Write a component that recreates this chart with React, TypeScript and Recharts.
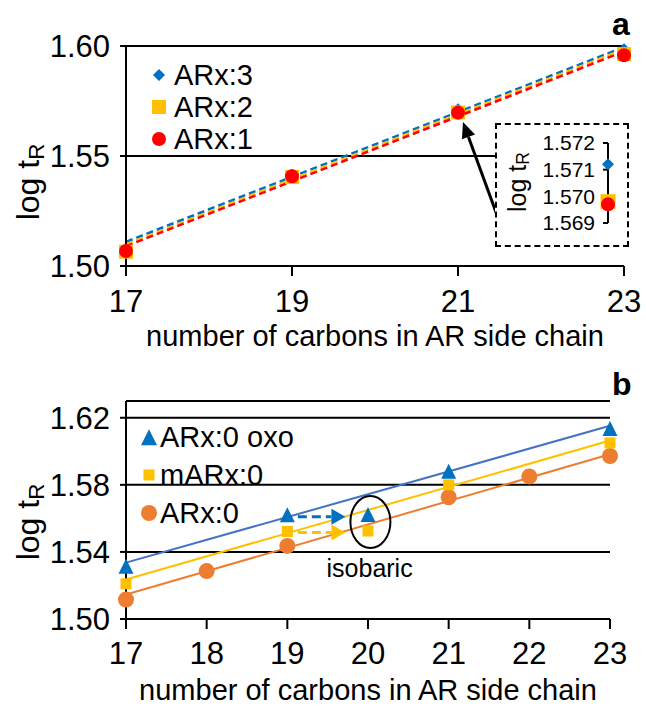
import React from 'react';
import {
  ComposedChart,
  ScatterChart,
  Scatter,
  Line,
  XAxis,
  YAxis,
  CartesianGrid,
  ReferenceLine,
  ReferenceDot,
  Legend,
} from 'recharts';

const FONT = '"Liberation Sans", Arial, sans-serif';

// panel a: ARx series, carbons 17..23
const carbonsA = [17, 19, 21, 23];
const arx3 = [1.5075, 1.5415, 1.5712, 1.5985];
const arx2 = [1.5065, 1.5405, 1.5698, 1.5963];
const arx1 = [1.5068, 1.5408, 1.5697, 1.5958];
const trendEnds = [17, 23];
const arx3Trend = [1.511, 1.5995];
const arx2Trend = [1.5098, 1.5985];
const arx1Trend = [1.509, 1.5975];
const yTicksA = [1.5, 1.55, 1.6];
const insetTicks = [1.569, 1.57, 1.571, 1.572];

// panel b: ARx:0 series
const carbonsOxo = [17, 19, 20, 21, 23];
const arx0Oxo = [1.531, 1.5617, 1.5618, 1.5876, 1.6132];
const carbonsM = [17, 19, 20, 21, 23];
const marx0 = [1.521, 1.5522, 1.5525, 1.58, 1.605];
const carbonsArx0 = [17, 18, 19, 21, 22, 23];
const arx0 = [1.5116, 1.5286, 1.5436, 1.5726, 1.585, 1.5972];
const oxoTrend = [1.5336, 1.6152];
const mTrend = [1.5236, 1.6064];
const arx0Trend = [1.5146, 1.5982];
const yTicksB = [1.5, 1.54, 1.58, 1.62];
const xTicksB = [17, 18, 19, 20, 21, 22, 23];

const BLUE = '#0070C0';
const LINE_BLUE = '#4472C4';
const YELLOW = '#FFC000';
const RED = '#FF0000';
const ORANGE = '#ED7D31';

const pts = (xs: number[], ys: number[]) => xs.map((x, i) => ({ x, y: ys[i] }));

const diamond = (r: number, fill: string) => (p: any) => (
  <polygon points={`${p.cx},${p.cy - r} ${p.cx + r},${p.cy} ${p.cx},${p.cy + r} ${p.cx - r},${p.cy}`} fill={fill} />
);
const square = (s: number, fill: string) => (p: any) => (
  <rect x={p.cx - s / 2} y={p.cy - s / 2} width={s} height={s} fill={fill} />
);
const dot = (r: number, fill: string) => (p: any) => <circle cx={p.cx} cy={p.cy} r={r} fill={fill} />;
const triangle = (s: number, fill: string) => (p: any) => (
  <polygon
    points={`${p.cx},${p.cy - s * 0.55} ${p.cx + s / 2},${p.cy + s * 0.45} ${p.cx - s / 2},${p.cy + s * 0.45}`}
    fill={fill}
  />
);

const arrow = (color: string, width: number, dash: string | undefined, head: number, half: number) => (p: any) => {
  const { x1, y1, x2, y2 } = p;
  const a = Math.atan2(y2 - y1, x2 - x1);
  const bx = x2 - head * Math.cos(a);
  const by = y2 - head * Math.sin(a);
  const sx = half * Math.sin(a);
  const sy = half * Math.cos(a);
  return (
    <g>
      <line x1={x1} y1={y1} x2={bx} y2={by} stroke={color} strokeWidth={width} strokeDasharray={dash} />
      <polygon points={`${x2},${y2} ${bx + sx},${by - sy} ${bx - sx},${by + sy}`} fill={color} />
    </g>
  );
};

const YTitle = ({ cx, cy, size }: { cx: number; cy: number; size: number }) => (
  <text
    x={cx}
    y={cy}
    transform={`rotate(-90, ${cx}, ${cy})`}
    textAnchor="middle"
    dominantBaseline="central"
    fontSize={size}
    fontFamily={FONT}
    fill="#000"
  >
    log t
    <tspan fontSize={size * 0.7} dy={size * 0.25}>
      R
    </tspan>
  </text>
);

const XTitle = (props: any) => {
  const { viewBox, bottom } = props;
  return (
    <text
      x={viewBox.x + viewBox.width / 2}
      y={viewBox.y + viewBox.height - bottom}
      textAnchor="middle"
      fontSize={29}
      fontFamily={FONT}
      fill="#000"
    >
      number of carbons in AR side chain
    </text>
  );
};

type LegendItem = { label: string; marker: React.ReactNode };

const LegendBox = ({ items, rowH, markerW, gap }: { items: LegendItem[]; rowH: number; markerW: number; gap: number }) => (
  <div style={{ fontFamily: FONT, fontSize: 29, color: '#000' }}>
    {items.map((it) => (
      <div key={it.label} style={{ display: 'flex', alignItems: 'center', height: rowH, whiteSpace: 'nowrap' }}>
        <svg width={markerW} height={20} style={{ marginRight: gap }}>
          {it.marker}
        </svg>
        <span style={{ lineHeight: 1 }}>{it.label}</span>
      </div>
    ))}
  </div>
);

const legendA: LegendItem[] = [
  { label: 'ARx:3', marker: diamond(6, BLUE)({ cx: 10, cy: 10 }) },
  { label: 'ARx:2', marker: square(14, YELLOW)({ cx: 10, cy: 10 }) },
  { label: 'ARx:1', marker: dot(7, RED)({ cx: 10, cy: 10 }) },
];
const legendB: LegendItem[] = [
  { label: 'ARx:0 oxo', marker: triangle(16, BLUE)({ cx: 10, cy: 11 }) },
  { label: 'mARx:0', marker: square(11, YELLOW)({ cx: 10, cy: 10 }) },
  { label: 'ARx:0', marker: dot(8, ORANGE)({ cx: 10, cy: 10 }) },
];

const axisStyle = { stroke: '#000', strokeWidth: 2 };
const tickStyle = { fontSize: 31, fill: '#000', fontFamily: FONT };

export default function App() {
  return (
    <div style={{ position: 'relative', width: 646, height: 707, background: '#fff', fontFamily: FONT }}>
      <style>{'body{margin:0}'}</style>

      {/* panel a */}
      <div style={{ position: 'absolute', left: 0, top: 0 }}>
        <ComposedChart width={646} height={356} margin={{ top: 46, right: 22, bottom: 0, left: 0 }}>
          <CartesianGrid horizontal vertical={false} stroke="#000" strokeWidth={2} />
          <XAxis
            type="number"
            dataKey="x"
            domain={[17, 23]}
            ticks={carbonsA}
            height={90}
            tickSize={10}
            tickMargin={14}
            axisLine={axisStyle}
            tickLine={axisStyle}
            tick={tickStyle}
            label={<XTitle bottom={10} />}
          />
          <YAxis
            type="number"
            dataKey="y"
            domain={[1.5, 1.6]}
            ticks={yTicksA}
            width={126}
            tickSize={6}
            tickMargin={10}
            axisLine={axisStyle}
            tickLine={axisStyle}
            tick={tickStyle}
            tickFormatter={(v: number) => v.toFixed(2)}
            label={<YTitle cx={28} cy={182} size={32} />}
          />
          <Line data={pts(trendEnds, arx3Trend)} dataKey="y" stroke={BLUE} strokeWidth={2.5} strokeDasharray="7 4" dot={false} isAnimationActive={false} />
          <Line data={pts(trendEnds, arx2Trend)} dataKey="y" stroke={YELLOW} strokeWidth={2.5} strokeDasharray="7 4" dot={false} isAnimationActive={false} />
          <Line data={pts(trendEnds, arx1Trend)} dataKey="y" stroke={RED} strokeWidth={2.5} strokeDasharray="7 4" dot={false} isAnimationActive={false} />
          <Scatter data={pts(carbonsA, arx3)} shape={diamond(6, BLUE)} isAnimationActive={false} />
          <Scatter data={pts(carbonsA, arx2)} shape={square(14, YELLOW)} isAnimationActive={false} />
          <Scatter data={pts(carbonsA, arx1)} shape={dot(7, RED)} isAnimationActive={false} />
          <ReferenceLine
            segment={[{ x: 21.47, y: 1.5232 }, { x: 21.06, y: 1.5655 }]}
            ifOverflow="visible"
            shape={arrow('#000', 3, undefined, 16, 7)}
          />
          <Legend
            layout="vertical"
            align="center"
            verticalAlign="middle"
            wrapperStyle={{ position: 'absolute', left: 149, top: 59, width: 'auto' }}
            content={() => <LegendBox items={legendA} rowH={32} markerW={20} gap={5} />}
          />
        </ComposedChart>
      </div>

      {/* inset: C21 close-up */}
      <div
        style={{
          position: 'absolute',
          left: 495,
          top: 123,
          width: 134,
          height: 124,
          border: '2px dashed #000',
          boxSizing: 'border-box',
          background: '#fff',
        }}
      >
        <ScatterChart width={130} height={120} margin={{ top: 18, right: 8, bottom: 22, left: 0 }}>
          <XAxis type="number" dataKey="x" domain={[0, 1]} hide />
          <YAxis
            type="number"
            dataKey="y"
            domain={[1.569, 1.572]}
            ticks={insetTicks}
            interval={0}
            width={111}
            tickSize={5}
            tickMargin={8}
            axisLine={axisStyle}
            tickLine={axisStyle}
            tick={{ fontSize: 21, fill: '#000', fontFamily: FONT }}
            tickFormatter={(v: number) => v.toFixed(3)}
            label={<YTitle cx={20} cy={57} size={25} />}
          />
          <Scatter data={[{ x: 0, y: arx3[2] }]} shape={diamond(6, BLUE)} isAnimationActive={false} />
          <Scatter data={[{ x: 0, y: arx2[2] }]} shape={square(15, YELLOW)} isAnimationActive={false} />
          <Scatter data={[{ x: 0, y: arx1[2] }]} shape={dot(7, RED)} isAnimationActive={false} />
        </ScatterChart>
      </div>

      <div style={{ position: 'absolute', left: 612, top: 6, fontSize: 32, fontWeight: 'bold' }}>a</div>

      {/* panel b */}
      <div style={{ position: 'absolute', left: 0, top: 355 }}>
        <ComposedChart width={646} height={352} margin={{ top: 46, right: 36, bottom: 0, left: 0 }}>
          <CartesianGrid horizontal vertical={false} stroke="#000" strokeWidth={2} />
          <XAxis
            type="number"
            dataKey="x"
            domain={[17, 23]}
            ticks={xTicksB}
            height={88}
            tickSize={10}
            tickMargin={13}
            axisLine={axisStyle}
            tickLine={axisStyle}
            tick={tickStyle}
            label={<XTitle bottom={7} />}
          />
          <YAxis
            type="number"
            dataKey="y"
            domain={[1.5, 1.63]}
            ticks={yTicksB}
            width={126}
            tickSize={6}
            tickMargin={10}
            axisLine={axisStyle}
            tickLine={axisStyle}
            tick={tickStyle}
            tickFormatter={(v: number) => v.toFixed(2)}
            label={<YTitle cx={28} cy={167} size={32} />}
          />
          <Line data={pts(trendEnds, oxoTrend)} dataKey="y" stroke={LINE_BLUE} strokeWidth={2} dot={false} isAnimationActive={false} />
          <Line data={pts(trendEnds, mTrend)} dataKey="y" stroke={YELLOW} strokeWidth={2} dot={false} isAnimationActive={false} />
          <Line data={pts(trendEnds, arx0Trend)} dataKey="y" stroke={ORANGE} strokeWidth={2} dot={false} isAnimationActive={false} />
          <Scatter data={pts(carbonsArx0, arx0)} shape={dot(8, ORANGE)} isAnimationActive={false} />
          <Scatter data={pts(carbonsM, marx0)} shape={square(11, YELLOW)} isAnimationActive={false} />
          <Scatter data={pts(carbonsOxo, arx0Oxo)} shape={triangle(15, BLUE)} isAnimationActive={false} />
          <ReferenceLine
            segment={[{ x: 19.13, y: 1.561 }, { x: 19.72, y: 1.561 }]}
            ifOverflow="visible"
            shape={arrow(BLUE, 3, '9 5', 14, 8)}
          />
          <ReferenceLine
            segment={[{ x: 19.13, y: 1.5516 }, { x: 19.72, y: 1.5516 }]}
            ifOverflow="visible"
            shape={arrow(YELLOW, 3, '9 5', 14, 8)}
          />
          <ReferenceDot
            x={20.03}
            y={1.5578}
            ifOverflow="visible"
            shape={(p: any) => <ellipse cx={p.cx} cy={p.cy} rx={20} ry={26} fill="none" stroke="#000" strokeWidth={2} />}
          />
          <ReferenceDot
            x={20.02}
            y={1.5304}
            ifOverflow="visible"
            shape={(p: any) => (
              <text x={p.cx} y={p.cy} textAnchor="middle" dominantBaseline="central" fontSize={25} fontFamily={FONT} fill="#000">
                isobaric
              </text>
            )}
          />
          <Legend
            layout="vertical"
            align="center"
            verticalAlign="middle"
            wrapperStyle={{ position: 'absolute', left: 139, top: 63, width: 'auto' }}
            content={() => <LegendBox items={legendB} rowH={38} markerW={20} gap={1} />}
          />
        </ComposedChart>
      </div>

      <div style={{ position: 'absolute', left: 612, top: 366, fontSize: 32, fontWeight: 'bold' }}>b</div>
    </div>
  );
}
